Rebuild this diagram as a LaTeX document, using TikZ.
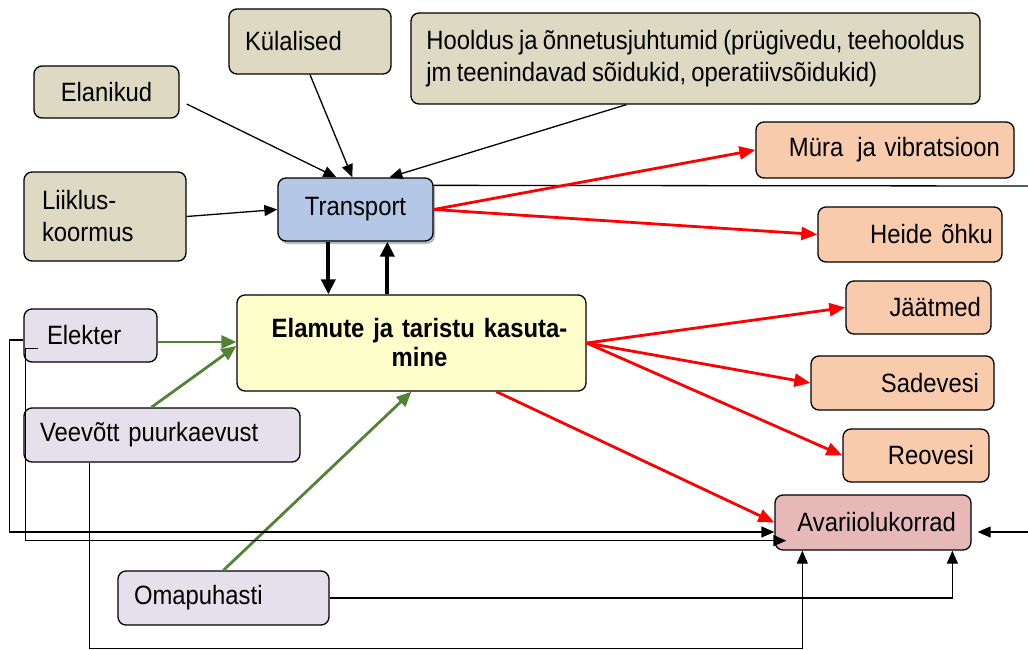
\documentclass[tikz,border=0pt]{standalone}
\usepackage{fontspec}
\setmainfont{Liberation Sans}[FakeStretch=0.9,WordSpace=0.8]
\usetikzlibrary{arrows.meta,shadows}
\definecolor{cTan}{RGB}{221,217,195}
\definecolor{cBlue}{RGB}{180,199,231}
\definecolor{cYellow}{RGB}{255,255,204}
\definecolor{cOrange}{RGB}{248,203,173}
\definecolor{cPink}{RGB}{230,184,183}
\definecolor{cLav}{RGB}{229,224,236}
\definecolor{cGreen}{RGB}{84,130,53}
\definecolor{cRed}{RGB}{255,0,0}
\begin{document}
\begin{tikzpicture}[x=1pt,y=-1pt,
  box/.style={draw=black, line width=1.3pt, rounded corners=8pt, inner sep=0pt,
    font=\fontsize{26.5}{32}\selectfont},
  blk/.style={draw=black, line width=1.3pt, -{Triangle[length=13pt,width=11pt]}},
  thk/.style={draw=black, line width=4pt, -{Triangle[length=15pt,width=14pt]}},
  redarr/.style={draw=cRed, line width=2.8pt, -{Triangle[length=16pt,width=13pt]}},
  grnarr/.style={draw=cGreen, line width=2.8pt, -{Triangle[length=15pt,width=13pt]}},
  plain/.style={draw=black, line width=1.3pt}]
\useasboundingbox (0,0) rectangle (1028,650);

% nodes
\node[box, fill=cTan, minimum width=145pt, minimum height=52pt] (elan) at (106.5,92) {Elanikud};
\node[box, fill=cTan, minimum width=162pt, minimum height=65pt, text width=130pt, align=left] (kul) at (310,41.5) {Külalised};
\node[box, fill=cTan, minimum width=569pt, minimum height=91pt, align=left] (hool) at (695.5,58.5) {Hooldus ja õnnetusjuhtumid (prügivedu, teehooldus\\jm teenindavad sõidukid, operatiivsõidukid)};
\node[box, fill=cTan, minimum width=162pt, minimum height=89pt, text width=126pt, align=left] (liik) at (105,216.5) {Liiklus-\\koormus};
\node[box, fill=cBlue, drop shadow={shadow xshift=2pt, shadow yshift=-3pt, fill=black!45, opacity=.6}, minimum width=155pt, minimum height=63pt] (tra) at (355.5,209.5) {Transport};
\node[box, fill=cOrange, minimum width=258pt, minimum height=56pt, text width=230pt, align=right] (mura) at (885,150) {Müra\hspace{14pt}ja vibratsioon};
\node[box, fill=cOrange, minimum width=184pt, minimum height=55pt, text width=166pt, align=right] (heide) at (910,234.5) {Heide õhku};
\node[box, fill=cYellow, minimum width=349pt, minimum height=96pt, text width=329pt, align=center, font=\fontsize{26.5}{29}\selectfont\bfseries] (elam) at (411.5,343) {\hspace*{16pt}Elamute ja taristu kasuta-\\\hspace*{16pt}mine};
\node[box, fill=cLav, minimum width=133pt, minimum height=53pt, text width=87pt, align=left] (elek) at (90.5,335.5) {Elekter};
\node[box, fill=cLav, minimum width=276pt, minimum height=54pt, text width=244pt, align=left] (vee) at (162,435) {Veevõtt puurkaevust};
\node[box, fill=cLav, minimum width=211pt, minimum height=54pt, text width=179pt, align=left] (oma) at (223.5,598) {Omapuhasti};
\node[box, fill=cOrange, minimum width=145pt, minimum height=53pt, text width=125pt, align=right] (jaat) at (918.5,307.5) {Jäätmed};
\node[box, fill=cOrange, minimum width=183pt, minimum height=54pt, text width=153pt, align=right] (sade) at (902.5,383) {Sadevesi};
\node[box, fill=cOrange, minimum width=146pt, minimum height=53pt, text width=116pt, align=right] (reo) at (916,455.5) {Reovesi};
\node[box, fill=cPink, minimum width=196pt, minimum height=55pt, text width=166pt, align=right] (avar) at (873,522.5) {Avariiolukorrad};

\coordinate (tr) at (1028,186);
\coordinate (rr) at (1028,532);

% black inputs to transport
\draw[blk] ([xshift=7pt,yshift=-12pt]elan.east) -- ([xshift=59pt]tra.north west);
\draw[blk] (kul.south) -- ([xshift=75pt]tra.north west);
\draw[blk] ([xshift=216pt]hool.south west) -- ([xshift=112pt]tra.north west);
\draw[blk] (liik.east) -- (tra.west);
\draw[plain] ([yshift=-8pt]tra.north east) -- (tr);

% thick arrows
\draw[thk] ([xshift=51pt]tra.south west) -- ([xshift=92pt]elam.north west);
\draw[thk] ([xshift=151pt]elam.north west) -- ([xshift=110pt]tra.south west);

% red arrows
\draw[redarr] (tra.east) -- (mura.west);
\draw[redarr] (tra.east) -- (heide.west);
\draw[redarr] (elam.east) -- (jaat.west);
\draw[redarr] (elam.east) -- (sade.west);
\draw[redarr] (elam.east) -- (reo.west);
\draw[redarr] ([xshift=260pt]elam.south west) -- (avar.west);

% green arrows
\draw[grnarr] ([yshift=-6.5pt]elek.east) -- ([yshift=1pt]elam.west);
\draw[grnarr] ([xshift=128pt]vee.north west) -- ([yshift=-3pt]elam.west);
\draw[grnarr] ([xshift=106pt]oma.north west) -- (elam.south);

% thin routed arrows to Avariiolukorrad
\draw[blk] ([yshift=-4.5pt]elek.west) -- ++(-14,0) |- ([yshift=-9.5pt]avar.west);
\draw[blk] ([xshift=15pt,yshift=14pt]elek.south west) -- ++(-13,0) |- ([xshift=12pt,yshift=10pt]avar.south west);
\draw[blk] ([xshift=66pt]vee.south west) -- ++(0,186) -| ([xshift=28pt]avar.south west);
\draw[blk] (oma.east) -| ([xshift=178pt]avar.south west);
\draw[blk, shorten >=6pt] (rr) -- ([yshift=-9.5pt]avar.east);
\end{tikzpicture}
\end{document}
